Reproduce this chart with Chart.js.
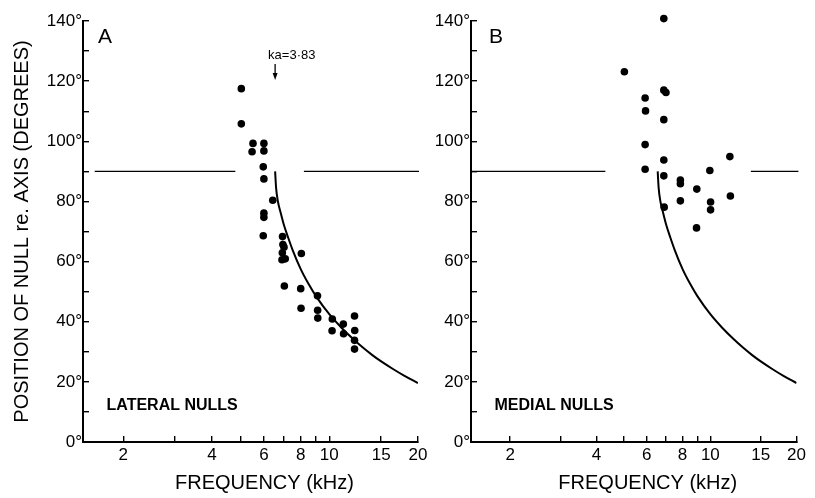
<!DOCTYPE html>
<html><head><meta charset="utf-8">
<script src="https://cdn.jsdelivr.net/npm/chart.js@4.4.1/dist/chart.umd.min.js"></script>
<style>
html,body{margin:0;padding:0;background:#fff;width:815px;height:498px;overflow:hidden}
#wa{position:absolute;left:0;top:0;width:440px;height:498px}
#wb{position:absolute;left:425px;top:0;width:390px;height:498px}
</style></head><body>
<div id="wa"><canvas id="ca"></canvas></div>
<div id="wb"><canvas id="cb"></canvas></div>
<script>
// ---- data ----
const lateralFreq = [5.03, 5.03, 5.51, 5.47, 6.0, 6.0, 5.97, 6.0, 6.43, 6.0, 6.0, 5.97, 6.94, 6.96, 7.02, 6.93, 6.91, 7.09, 8.04, 7.04, 8.0, 8.02, 9.12, 9.13, 9.14, 10.24, 10.22, 11.16, 11.18, 12.18, 12.2, 12.18, 12.18];
const lateralDeg  = [117.5, 105.8, 99.3, 96.5, 99.3, 96.8, 91.5, 87.5, 80.4, 76.1, 74.7, 68.6, 68.3, 65.7, 64.8, 62.9, 60.6, 60.9, 62.7, 51.9, 51.0, 44.5, 48.6, 43.8, 41.2, 40.9, 37.0, 39.2, 36.0, 41.9, 37.1, 33.8, 30.9];
const medialFreq = [5.01, 6.88, 6.88, 7.0, 5.92, 5.94, 6.88, 5.92, 6.88, 5.92, 6.88, 7.86, 7.86, 8.97, 9.96, 11.7, 11.75, 7.86, 10.02, 10.02, 6.9, 8.95];
const medialDeg  = [123.1, 140.8, 117.0, 116.2, 114.4, 110.1, 107.2, 98.9, 93.8, 90.7, 88.5, 87.1, 85.9, 84.1, 90.3, 94.9, 81.8, 80.2, 79.8, 77.2, 78.1, 71.2];
const curveFreq = [6.55, 6.6, 6.7, 6.85, 7.0, 7.25, 7.5, 8.0, 8.5, 9.0, 10, 11, 12, 13, 14, 15, 16.5, 18, 20];
const curveDeg  = [90, 84.5, 79.8, 76.0, 72.5, 68.0, 64.0, 57.5, 52.6, 48.6, 42.5, 38.0, 34.4, 31.4, 28.9, 26.8, 24.2, 22.0, 19.6];
const refLineFreqA = [1.6, 4.8, 6.5, 8.2, 20.15];
const refLineDegA  = [90, 90, null, 90, 90];
const refLineFreqB = [1.46, 4.3, 9, 13.85, 20.3];
const refLineDegB  = [90, 90, null, 90, 90];
const xTickValues = [2, 3, 4, 5, 6, 7, 8, 9, 10, 15, 20];
const xTickLabels = [2, 4, 6, 8, 10, 15, 20];
const yLabelStep = 20;
const KA_FREQ = 6.55;
const KA_TEXT = 'ka=3·83';
const X_MIN = 1.46, X_MAX = 20, Y_MIN = 0, Y_MAX = 140;

const pts = (xs, ys) => xs.map((x, i) => ({x: x, y: ys[i]}));
const SANS = "'Liberation Sans',Arial,sans-serif";

function extras(letter, note, showKa, letterDx) {
  return {
    id: 'extras' + letter,
    afterDraw(chart) {
      const ctx = chart.ctx, xs = chart.scales.x, ca = chart.chartArea;
      ctx.save();
      ctx.fillStyle = '#000'; ctx.strokeStyle = '#000';
      ctx.textBaseline = 'alphabetic'; ctx.textAlign = 'left';
      ctx.font = '21px ' + SANS;
      ctx.fillText(letter, ca.left + letterDx, 43);
      ctx.font = 'bold 16px ' + SANS;
      ctx.fillText(note, ca.left + 23.5, 410);
      ctx.font = '20px ' + SANS;
      ctx.textAlign = 'center'; ctx.textBaseline = 'middle';
      ctx.fillText('FREQUENCY (kHz)', (ca.left + ca.right) / 2 + 14, 483);
      if (showKa) {
        const ax = xs.getPixelForValue(KA_FREQ);
        ctx.textAlign = 'left'; ctx.textBaseline = 'alphabetic';
        ctx.font = '13px ' + SANS;
        ctx.fillText(KA_TEXT, ax - 7, 59);
        ctx.lineWidth = 1.3;
        ctx.beginPath(); ctx.moveTo(ax, 64); ctx.lineTo(ax, 75); ctx.stroke();
        ctx.beginPath(); ctx.moveTo(ax - 2.5, 73); ctx.lineTo(ax + 2.5, 73); ctx.lineTo(ax, 80); ctx.closePath(); ctx.fill();
      }
      ctx.restore();
    }
  };
}

function makeChart(id, freq, deg, refF, refD, opts) {
  return new Chart(document.getElementById(id), {
    type: 'scatter',
    data: {
      datasets: [
        {type: 'line', data: pts(refF, refD), borderColor: '#000', borderWidth: 1.3, pointRadius: 0, spanGaps: false, clip: false},
        {type: 'line', data: pts(curveFreq, curveDeg), borderColor: '#000', borderWidth: 2, pointRadius: 0, cubicInterpolationMode: 'monotone'},
        {type: 'scatter', data: pts(freq, deg), backgroundColor: '#000', borderColor: '#000', pointRadius: 3.8, borderWidth: 0, clip: false}
      ]
    },
    options: {
      responsive: false, animation: false, maintainAspectRatio: false,
      layout: {padding: {left: 0, top: 21, right: opts.padRight, bottom: 0}},
      plugins: {legend: {display: false}, tooltip: {enabled: false}},
      scales: {
        x: {
          type: 'logarithmic', min: X_MIN, max: X_MAX,
          afterBuildTicks: s => { s.ticks = xTickValues.map(v => ({value: v})); },
          afterFit: s => { s.height = 56; },
          grid: {drawOnChartArea: false, drawTicks: true, tickLength: -6, color: '#000', lineWidth: 1.4},
          border: {display: true, color: '#000', width: 2},
          ticks: {
            autoSkip: false, maxRotation: 0, padding: 9, color: '#000',
            font: {family: SANS, size: 17},
            callback: v => xTickLabels.includes(v) ? String(v) : ''
          }
        },
        y: {
          min: Y_MIN, max: Y_MAX,
          afterFit: s => { s.width = opts.yWidth; },
          grid: {drawOnChartArea: false, drawTicks: true, tickLength: -6, color: '#000', lineWidth: 1.4},
          border: {display: true, color: '#000', width: 2},
          ticks: {
            stepSize: 10, padding: 7, color: '#000',
            font: {family: SANS, size: 17},
            callback: v => (v % yLabelStep === 0) ? v + '°' : ''
          },
          title: opts.yTitle ? {display: true, text: 'POSITION OF NULL re. AXIS (DEGREES)', color: '#000',
            font: {family: SANS, size: 20}, padding: {top: 10, bottom: 0}} : {display: false}
        }
      }
    },
    plugins: [opts.plugin]
  });
}

const ca = document.getElementById('ca'); ca.width = 440; ca.height = 498;
const cb = document.getElementById('cb'); cb.width = 390; cb.height = 498;
makeChart('ca', lateralFreq, lateralDeg, refLineFreqA, refLineDegA,
  {padRight: 22, yWidth: 83, yTitle: true, plugin: extras('A', 'LATERAL NULLS', true, 15)});
makeChart('cb', medialFreq, medialDeg, refLineFreqB, refLineDegB,
  {padRight: 8, yWidth: 46, yTitle: false, plugin: extras('B', 'MEDIAL NULLS', false, 18)});
</script>
</body></html>
